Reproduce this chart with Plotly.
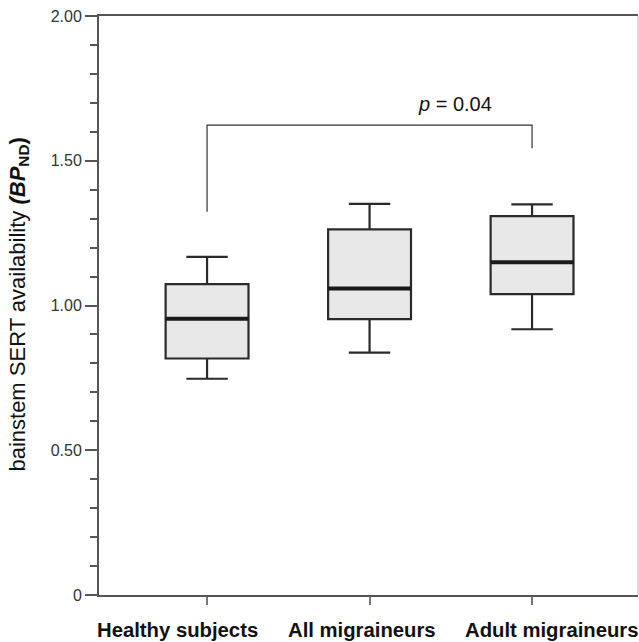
import plotly.graph_objects as go

categories = ["Healthy subjects", "All migraineurs", "Adult migraineurs"]
lower_whisker = [0.747, 0.837, 0.918]
q1_vals = [0.817, 0.953, 1.039]
median_vals = [0.954, 1.059, 1.149]
q3_vals = [1.074, 1.263, 1.309]
upper_whisker = [1.168, 1.351, 1.349]

y_tickvals = [0, 0.5, 1.0, 1.5, 2.0]
y_ticktext = ["0", "0.50", "1.00", "1.50", "2.00"]

p_text = "<i>p</i> = 0.04"
bracket_top = 1.623
bracket_left_bottom = 1.324
bracket_right_bottom = 1.543

# horizontal placement of the category captions (in x-axis units; they are set
# as free text in the original, not centred on the ticks)
label_x = [-0.182, 0.951, 2.123]

BOX_W = 0.51
FONT = "Liberation Sans, Arial, sans-serif"

fig = go.Figure()
xpos = list(range(len(categories)))
for i, cat in enumerate(categories):
    fig.add_trace(go.Box(
        x=[xpos[i]], q1=[q1_vals[i]], median=[median_vals[i]], q3=[q3_vals[i]],
        lowerfence=[lower_whisker[i]], upperfence=[upper_whisker[i]],
        width=BOX_W, whiskerwidth=0.5, boxpoints=False,
        fillcolor="#e8e8e8", line=dict(color="#2a2a2a", width=2.2),
        name=cat, showlegend=False, hoverinfo="skip"))

# thicker median lines
mx, my = [], []
for i in xpos:
    mx += [i - BOX_W / 2, i + BOX_W / 2, None]
    my += [median_vals[i], median_vals[i], None]
fig.add_trace(go.Scatter(x=mx, y=my, mode="lines",
                         line=dict(color="#1a1a1a", width=4),
                         showlegend=False, hoverinfo="skip"))

# significance bracket
fig.add_trace(go.Scatter(
    x=[xpos[0], xpos[0], xpos[2], xpos[2]],
    y=[bracket_left_bottom, bracket_top, bracket_top, bracket_right_bottom],
    mode="lines", line=dict(color="#333333", width=1.2),
    showlegend=False, hoverinfo="skip"))

fig.add_annotation(x=1.526, y=1.695, text=p_text, showarrow=False,
                   font=dict(family=FONT, size=20, color="#111111"),
                   xanchor="center", yanchor="middle")

fig.add_annotation(xref="paper", yref="paper", x=-0.148, y=0.502,
                   text="bainstem SERT availability <b><i>(BP</i></b><b><sub>ND</sub>)</b>",
                   textangle=-90, showarrow=False,
                   font=dict(family=FONT, size=22, color="#111111"),
                   xanchor="center", yanchor="middle")

for lx, cat in zip(label_x, categories):
    fig.add_annotation(x=lx, xref="x", yref="paper", y=0, yshift=-35,
                       text=f"<b>{cat}</b>", showarrow=False,
                       font=dict(family=FONT, size=20.3, color="#111111"),
                       xanchor="center", yanchor="middle")

# right border
fig.add_shape(type="line", xref="paper", yref="paper", x0=1, x1=1, y0=0, y1=1,
              line=dict(color="#bbbbbb", width=1))

fig.update_layout(
    width=639, height=642,
    margin=dict(l=99, r=1, t=16, b=47),
    plot_bgcolor="white", paper_bgcolor="white",
    font=dict(family=FONT, size=16, color="#333333"),
    xaxis=dict(range=[-0.665, 2.652], tickvals=xpos, showticklabels=False,
               showgrid=False, zeroline=False, showline=True, linecolor="#555555",
               linewidth=2, mirror=True, ticks="outside", ticklen=8, tickwidth=2,
               tickcolor="#777777"),
    yaxis=dict(range=[0, 2], tickvals=y_tickvals, ticktext=y_ticktext,
               showgrid=False, zeroline=False, showline=True, linecolor="#555555",
               linewidth=2, ticks="outside", ticklen=12, tickwidth=2, tickcolor="#555555",
               tickfont=dict(family=FONT, size=16, color="#333333"),
               minor=dict(dtick=0.1, ticks="outside", ticklen=7, tickwidth=2,
                          tickcolor="#555555")),
)

fig.write_html("out.html", config={"displayModeBar": False},
               post_script="document.body.style.margin='0';document.body.style.overflow='hidden';")
